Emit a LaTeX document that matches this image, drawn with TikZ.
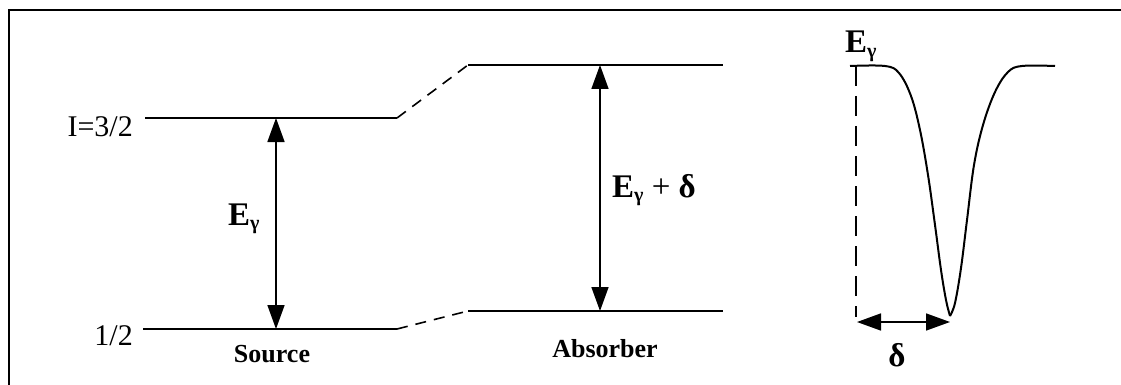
\documentclass[tikz,border=0pt]{standalone}
\usepackage{fontspec}
\setmainfont{Liberation Serif}
\usetikzlibrary{arrows.meta,positioning}
\tikzset{
  level/.style={line width=2pt},
  link/.style={line width=1.6pt,dash pattern=on 11pt off 8pt},
  guide/.style={line width=2.4pt,dash pattern=on 20pt off 10pt},
  ar/.style={{Triangle[length=24pt,width=17pt]}-{Triangle[length=24pt,width=17pt]},line width=1.6pt},
  lbl/.style={font=\fontsize{30}{34}\selectfont,inner sep=0pt},
  tag/.style={font=\bfseries\fontsize{26}{29}\selectfont,inner sep=0pt},
  sym/.style={font=\fontsize{33}{36}\selectfont,inner sep=0pt}
}
\newcommand{\Egam}{\textbf{E}\raisebox{-0.3ex}{\fontsize{20}{20}\selectfont\bfseries γ}}

\begin{document}
\begin{tikzpicture}[x=1pt,y=-1pt]
\useasboundingbox (0,0) rectangle (1121,385);
% frame
\draw[line width=1.2pt] (1121,10) -- (9,10) -- (9,385);

% source levels
\coordinate (s3a) at (145,118); \coordinate (s3b) at (397,118);
\coordinate (s1a) at (143,329); \coordinate (s1b) at (397,329);
\draw[level] (s3a) -- (s3b);
\draw[level] (s1a) -- (s1b);
\node[lbl,anchor=base east] (spin3) at (133,136) {I=3/2};
\node[lbl,anchor=base east] (spin1) at (133,345) {1/2};
\node[tag,anchor=base] (src) at (272,362) {Source};

% absorber levels
\coordinate (a3a) at (468,65); \coordinate (a3b) at (723,65);
\coordinate (a1a) at (468,311); \coordinate (a1b) at (723,311);
\draw[level] (a3a) -- (a3b);
\draw[level] (a1a) -- (a1b);
\node[tag,anchor=base] (abs) at (605,357) {Absorber};
\draw[link] (s3b) -- (a3a);
\draw[link] (s1b) -- (a1a);

% transitions
\coordinate (gs) at (276,118); \coordinate (gs1) at (276,329);
\draw[ar] (gs) -- (gs1);
\node[sym,anchor=base west] (eg) at (228,225) {\Egam};
\coordinate (ga) at (600,65); \coordinate (ga1) at (600,311);
\draw[ar] (ga) -- (ga1);
\node[sym,anchor=base west] (egd) at (612,197) {\Egam\ + \textbf{δ}};

% absorption line
\coordinate (e0) at (856,66);
\coordinate (dip) at (950,316);
\draw[line width=2pt] plot[smooth,tension=0.6] coordinates {(850,66) (885,66) (899,73) (911,96) (920,130) (928,175) (935,225) (941,270) (946,300) (dip)};
\draw[line width=2pt] plot[smooth,tension=0.6] coordinates {(dip) (955,303) (961,268) (967,220) (974,165) (983,125) (995,92) (1008,72) (1022,66) (1055,66)};
\node[sym,anchor=base west] (eg2) at (845,53) {\Egam};
\coordinate (e1) at (856,317);
\draw[guide] (e0) -- (e1);
\coordinate (d0) at (857,322); \coordinate (d1) at (950,322);
\draw[ar] (d0) -- (d1);
\node[inner sep=0pt,anchor=base,font=\bfseries\fontsize{33}{36}\selectfont] (shift) at (897,366) {δ};
\end{tikzpicture}
\end{document}
